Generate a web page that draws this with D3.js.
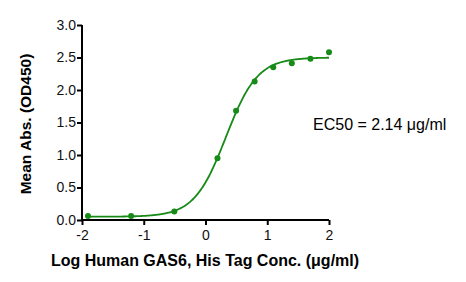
<!DOCTYPE html>
<html><head><meta charset="utf-8">
<script src="https://cdn.jsdelivr.net/npm/d3@7"></script>
<style>body{margin:0;background:#fff}svg{display:block}</style>
</head><body>
<svg id="c" width="466" height="282"></svg>
<script>
const logConc = [-1.903, -1.204, -0.505, 0.194, 0.495, 0.796, 1.097, 1.398, 1.699, 2.0];
const meanAbs = [0.06, 0.06, 0.13, 0.95, 1.68, 2.13, 2.35, 2.41, 2.48, 2.58];
const xTicks = [-2, -1, 0, 1, 2];
const yTicks = [0, 0.5, 1.0, 1.5, 2.0, 2.5, 3.0];
// 4PL fit parameters
const fitBottom = 0.05, fitTop = 2.50, fitLogEC50 = Math.log10(2.14), fitHill = 1.7;

const svg = d3.select("#c");
const x = d3.scaleLinear().domain([-2, 2]).range([82, 329]);
const y = d3.scaleLinear().domain([0, 3]).range([220, 25]);
const green = "#178a17";
const font = "Liberation Sans, Arial, sans-serif";

const xa = svg.append("g").attr("transform", "translate(0,220)")
  .call(d3.axisBottom(x).tickValues(xTicks).tickSize(5).tickPadding(5).tickFormat(d => String(d)));
const ya = svg.append("g").attr("transform", "translate(82,0)")
  .call(d3.axisLeft(y).tickValues(yTicks).tickSize(5).tickPadding(1).tickFormat(d3.format(".1f")));
[xa, ya].forEach(a => {
  a.select(".domain").attr("stroke", "#000").attr("stroke-width", 2);
  a.selectAll(".tick line").attr("stroke", "#000").attr("stroke-width", 2);
  a.selectAll("text").attr("font-family", font).attr("font-size", 14).attr("fill", "#111");
});
xa.select(".domain").attr("d", "M82,0H329");
ya.select(".domain").attr("d", "M0,220V25");

const xs = d3.range(-1.9, 2.0001, 0.02);
const f = v => fitBottom + (fitTop - fitBottom) / (1 + Math.pow(10, (fitLogEC50 - v) * fitHill));
svg.append("path").datum(xs)
  .attr("d", d3.line().x(d => x(d)).y(d => y(f(d))).curve(d3.curveBasis))
  .attr("fill", "none").attr("stroke", green).attr("stroke-width", 1.8);

svg.selectAll("circle.p").data(logConc).enter().append("circle")
  .attr("cx", d => x(d)).attr("cy", (d, i) => y(meanAbs[i])).attr("r", 3).attr("fill", green);

svg.append("text").attr("transform", "translate(31,124) rotate(-90)")
  .attr("text-anchor", "middle").attr("font-family", font).attr("font-weight", "bold")
  .attr("font-size", 15.5).text("Mean Abs. (OD450)");
svg.append("text").attr("x", 205).attr("y", 266).attr("text-anchor", "middle")
  .attr("font-family", font).attr("font-weight", "bold").attr("font-size", 16)
  .text("Log Human GAS6, His Tag Conc. (μg/ml)");
svg.append("text").attr("x", 313).attr("y", 130).attr("font-family", font)
  .attr("font-size", 16).text("EC50 = 2.14 μg/ml");
</script>
</body></html>
